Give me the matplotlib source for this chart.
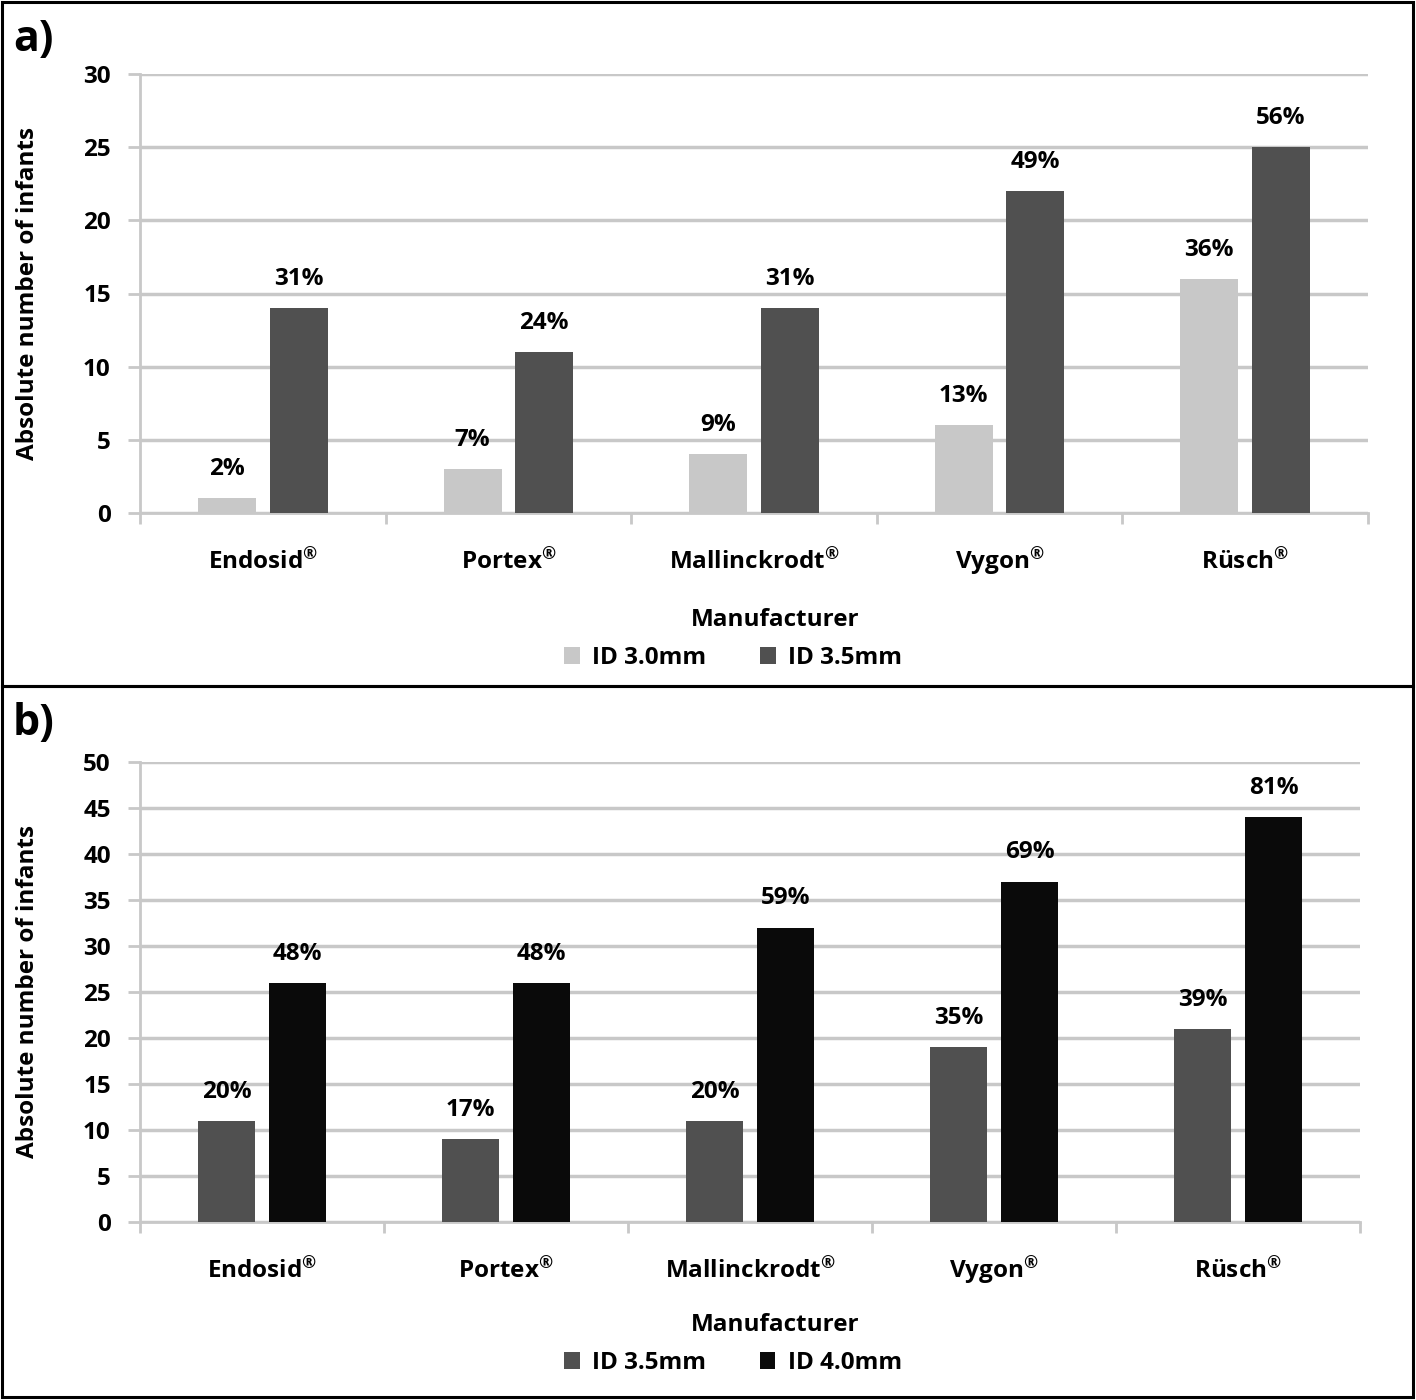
import numpy as np
import matplotlib.pyplot as plt
from matplotlib.patches import Rectangle

plt.rcParams['font.family'] = ['Open Sans', 'DejaVu Sans']
plt.rcParams['font.weight'] = 'bold'
plt.rcParams['mathtext.default'] = 'regular'

# data
manufacturers = ['Endosid', 'Portex', 'Mallinckrodt', 'Vygon', 'Rüsch']

a_small = [1, 3, 4, 6, 16]
a_large = [14, 11, 14, 22, 25]
a_small_pct = ['2%', '7%', '9%', '13%', '36%']
a_large_pct = ['31%', '24%', '31%', '49%', '56%']
a_labels = ['ID 3.0mm', 'ID 3.5mm']

b_small = [11, 9, 11, 19, 21]
b_large = [26, 26, 32, 37, 44]
b_small_pct = ['20%', '17%', '20%', '35%', '39%']
b_large_pct = ['48%', '48%', '59%', '69%', '81%']
b_labels = ['ID 3.5mm', 'ID 4.0mm']

W, H = 1416, 1400
fig = plt.figure(figsize=(W / 100, H / 100), dpi=100)


def fx(px):
    return px / W


def fy(py):
    return 1 - py / H


GRID = '#c8c8c8'
FS = 17.5


def panel(box, ax_rect, small, large, spct, lpct, labels, colors, ymax, ystep,
          letter, man_y, leg_y):
    # border
    x0, y0, x1, y1 = box
    fig.patches.append(Rectangle((fx(x0), fy(y1)), fx(x1 - x0), fy(y0) - fy(y1),
                                 transform=fig.transFigure, fill=False,
                                 edgecolor='black', linewidth=2.2))
    fig.text(fx(x0 + 11), fy(y0 + 38), letter, fontsize=31, fontweight='bold',
             va='center', ha='left')

    l, t, r, b = ax_rect
    ax = fig.add_axes([fx(l), fy(b), fx(r - l), fy(t) - fy(b)])
    x = np.arange(len(small))
    w = 0.236
    off = 0.146
    bs = ax.bar(x - off, small, w, color=colors[0], label=labels[0], zorder=3)
    bl = ax.bar(x + off, large, w, color=colors[1], label=labels[1], zorder=3)
    for bars, txt in ((bs, spct), (bl, lpct)):
        for rect, s in zip(bars, txt):
            ax.annotate(s, (rect.get_x() + rect.get_width() / 2, rect.get_height()),
                        xytext=(0, 21), textcoords='offset points',
                        ha='center', va='center', fontsize=FS, fontweight='bold')

    ax.set_xlim(-0.5, len(small) - 0.5)
    ax.set_ylim(0, ymax)
    ax.set_yticks(np.arange(0, ymax + 1, ystep))
    ax.set_xticks(x)
    ax.set_xticklabels([m + '$^{\u00ae}$' for m in manufacturers])
    ax.set_xticks(np.arange(-0.5, len(small), 1), minor=True)
    ax.yaxis.grid(True, color=GRID, linewidth=2.5, zorder=0)
    ax.set_axisbelow(True)
    for s in ['top', 'right']:
        ax.spines[s].set_visible(False)
    for s in ['left', 'bottom']:
        ax.spines[s].set_color(GRID)
        ax.spines[s].set_linewidth(2)
    ax.tick_params(axis='y', length=9, width=2, color=GRID, labelsize=FS, pad=12)
    ax.tick_params(axis='x', which='major', length=0, labelsize=FS, pad=40)
    ax.tick_params(axis='x', which='minor', length=8, width=2, color=GRID)
    for lab in ax.get_xticklabels():
        lab.set_fontweight('bold')
        lab.set_verticalalignment('baseline')
    for lab in ax.get_yticklabels():
        lab.set_fontweight('bold')
    ax.set_ylabel('Absolute number of infants', fontsize=FS, fontweight='bold')
    ax.yaxis.set_label_coords(fx(40 - l) / fx(r - l), 0.5)

    fig.text(fx(775), fy(man_y), 'Manufacturer', ha='center', va='center',
             fontsize=FS, fontweight='bold')
    fig.legend(handles=[bs, bl], labels=labels, loc='center',
               bbox_to_anchor=(fx(733), fy(leg_y)), ncol=2, frameon=False,
               handlelength=0.65, handleheight=0.65,
               handletextpad=0.5, columnspacing=2.2,
               prop={'weight': 'bold', 'size': FS})
    return ax


panel((2, 2, 1413, 686), (140, 74, 1368, 513), a_small, a_large,
      a_small_pct, a_large_pct, a_labels, ['#c8c8c8', '#505050'], 30, 5,
      'a)', 620, 658)
panel((2, 686, 1413, 1397), (140, 762, 1360, 1222), b_small, b_large,
      b_small_pct, b_large_pct, b_labels, ['#505050', '#0a0a0a'], 50, 5,
      'b)', 1325, 1363)

fig.savefig('out.png', dpi=100)
